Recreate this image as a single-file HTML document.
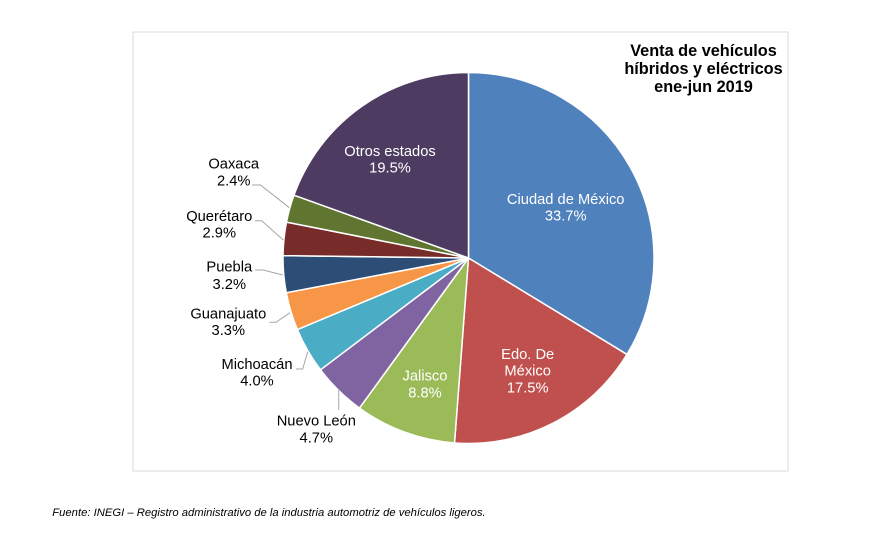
<!DOCTYPE html>
<html>
<head>
<meta charset="utf-8">
<style>
  html, body { margin: 0; padding: 0; background: #ffffff; }
  body { width: 893px; height: 533px; overflow: hidden; }
  svg { display: block; }
  text { font-family: "Liberation Sans", Arial, sans-serif; }
</style>
</head>
<body>
<svg width="893" height="533" viewBox="0 0 893 533" xmlns="http://www.w3.org/2000/svg">
  <rect x="0" y="0" width="893" height="533" fill="#ffffff"/>
  <!-- chart frame -->
  <rect x="133" y="32" width="655" height="439" fill="#ffffff" stroke="#d9d9d9" stroke-width="1"/>

  <!-- pie slices -->
  <g stroke="#ffffff" stroke-width="1.5" stroke-linejoin="round">
    <path d="M468.5,258 L468.5,72.5 A185.5,185.5 0 0 1 626.97,354.44 Z" fill="#4F81BD"/>
    <path d="M468.5,258 L626.97,354.44 A185.5,185.5 0 0 1 454.53,442.97 Z" fill="#C0504D"/>
    <path d="M468.5,258 L454.53,442.97 A185.5,185.5 0 0 1 359.47,408.07 Z" fill="#9BBB59"/>
    <path d="M468.5,258 L359.47,408.07 A185.5,185.5 0 0 1 320.5,369.83 Z" fill="#8064A2"/>
    <path d="M468.5,258 L320.5,369.83 A185.5,185.5 0 0 1 297.34,329.52 Z" fill="#4BACC6"/>
    <path d="M468.5,258 L297.34,329.52 A185.5,185.5 0 0 1 286.29,292.76 Z" fill="#F79646"/>
    <path d="M468.5,258 L286.29,292.76 A185.5,185.5 0 0 1 283.01,255.67 Z" fill="#2C4D75"/>
    <path d="M468.5,258 L283.01,255.67 A185.5,185.5 0 0 1 286.51,222.09 Z" fill="#772C2A"/>
    <path d="M468.5,258 L286.51,222.09 A185.5,185.5 0 0 1 293.97,195.16 Z" fill="#5F7530"/>
    <path d="M468.5,258 L293.97,195.16 A185.5,185.5 0 0 1 468.5,72.5 Z" fill="#4D3B62"/>
  </g>

  <!-- leader lines -->
  <g stroke="#a6a6a6" stroke-width="1" fill="none">
    <polyline points="252,185 260.5,185 289.3,207.7"/>
    <polyline points="255,220.7 261.7,220.7 283.3,240"/>
    <polyline points="255,270 263.3,270 282.7,275"/>
    <polyline points="269.3,322.3 276,322.3 290,312.7"/>
    <polyline points="296,369 302.7,369 307.7,351.7"/>
    <polyline points="338.7,390 338.7,410"/>
  </g>

  <!-- inside labels (white) -->
  <g fill="#ffffff" font-size="14.7" text-anchor="middle">
    <text x="565.7" y="204">Ciudad de México</text>
    <text x="565.7" y="220.7">33.7%</text>
    <text x="527.7" y="359">Edo. De</text>
    <text x="527.7" y="375.7">México</text>
    <text x="527.7" y="392.3">17.5%</text>
    <text x="425" y="380.5">Jalisco</text>
    <text x="425" y="397.3">8.8%</text>
    <text x="390" y="156">Otros estados</text>
    <text x="390" y="172.7">19.5%</text>
  </g>

  <!-- outside labels (black) -->
  <g fill="#000000" font-size="14.7" text-anchor="middle">
    <text x="316.3" y="425.7">Nuevo León</text>
    <text x="316.3" y="442.3">4.7%</text>
    <text x="257" y="369">Michoacán</text>
    <text x="257" y="385.7">4.0%</text>
    <text x="228.3" y="318.3">Guanajuato</text>
    <text x="228.3" y="335">3.3%</text>
    <text x="229.3" y="271.7">Puebla</text>
    <text x="229.3" y="289">3.2%</text>
    <text x="219.3" y="221">Querétaro</text>
    <text x="219.3" y="237.7">2.9%</text>
    <text x="233.7" y="168.3">Oaxaca</text>
    <text x="233.7" y="185.3">2.4%</text>
  </g>

  <!-- title -->
  <g fill="#000000" font-size="16.3" font-weight="bold" text-anchor="middle">
    <text x="703.5" y="56">Venta de vehículos</text>
    <text x="703.5" y="74">híbridos y eléctricos</text>
    <text x="703.5" y="92">ene-jun 2019</text>
  </g>

  <!-- source -->
  <text x="52.3" y="516" font-size="11.25" font-style="italic" fill="#000000">Fuente: INEGI – Registro administrativo de la industria automotriz de vehículos ligeros.</text>
</svg>
</body>
</html>
